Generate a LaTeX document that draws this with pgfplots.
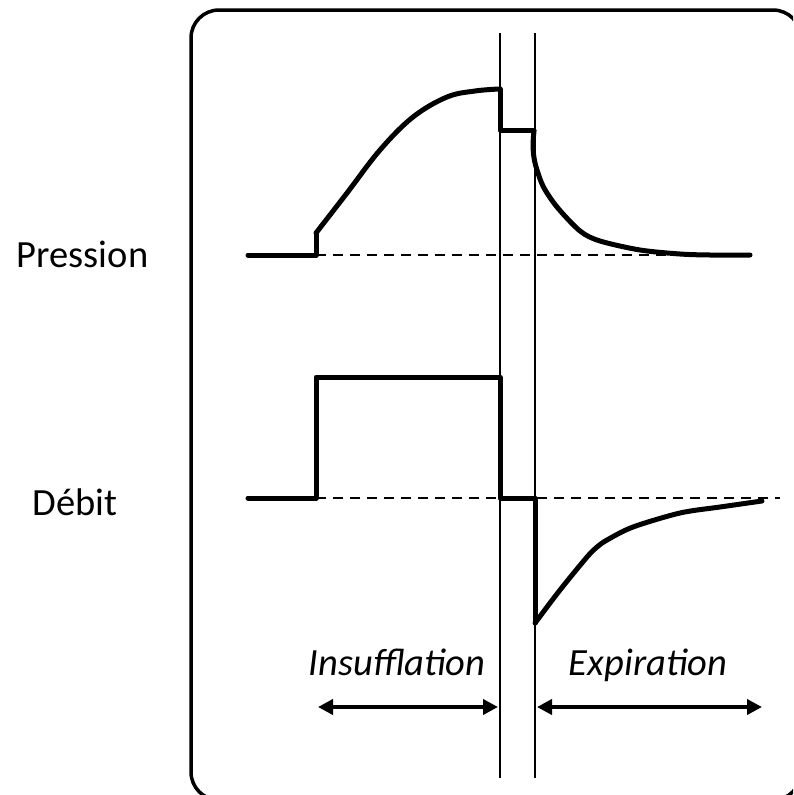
\documentclass[border=0pt]{standalone}
\usepackage{pgfplots}
\pgfplotsset{compat=1.18}
\usepackage{fontspec}
\setmainfont{Carlito}
\usetikzlibrary{arrows.meta}
\begin{document}
\begin{tikzpicture}
\begin{axis}[width=793pt,height=795pt,scale only axis,
  xmin=0,xmax=793,ymin=0,ymax=795,y dir=reverse,
  axis lines=none,ticks=none,clip=true]
% frame
\draw[line width=3.5pt,rounded corners=28pt] (axis cs:191,10) rectangle (axis cs:801,800);
% vertical lines
\addplot[line width=2.2pt] coordinates {(500,33) (500,778)};
\addplot[line width=2.2pt] coordinates {(535,33) (535,778)};
% dashed baselines
\addplot[line width=2.2pt,dash pattern=on 10pt off 7pt] coordinates {(316,255) (750,255)};
\addplot[line width=2.2pt,dash pattern=on 10pt off 7pt] coordinates {(316,498) (780,498)};
% pressure
\addplot[line width=5pt,line join=round,line cap=round] coordinates {(248,255) (316,255) (316,233)};
\addplot[line width=5pt,line cap=round,smooth,tension=0.6] coordinates {(316,233) (347,193) (380,150) (413,117) (447,97) (475,91) (499,89)};
\addplot[line width=5pt,line join=round,line cap=round] coordinates {(500,89) (500,130) (534,130)};
\addplot[line width=5pt,line cap=round,smooth,tension=0.5] coordinates {(534,131) (533,146) (535,163) (543,186) (557,207) (580,231) (600,241) (640,250) (680,254) (710,255) (750,255)};
% flow
\addplot[line width=5pt,line join=round,line cap=round] coordinates {(248,498) (316,498) (316,377) (500,377) (500,498) (535,498) (535,623)};
\addplot[line width=5pt,line cap=round,smooth,tension=0.5] coordinates {(535,623) (560,590) (587,557) (597,547) (607,540) (633,527) (680,513) (720,507) (762,501)};
% arrows
\draw[line width=4.5pt,{Triangle[length=15pt,width=15pt]}-{Triangle[length=15pt,width=15pt]}] (axis cs:318,707) -- (axis cs:498,707);
\draw[line width=4.5pt,{Triangle[length=15pt,width=15pt]}-{Triangle[length=15pt,width=15pt]}] (axis cs:537,707) -- (axis cs:762,707);
% labels
\node[anchor=base,inner sep=0pt,font=\fontsize{38.5}{46}\selectfont] at (axis cs:82.5,267) {Pression};
\node[anchor=base,inner sep=0pt,font=\fontsize{38.5}{46}\selectfont] at (axis cs:75,515) {Débit};
\node[anchor=base,inner sep=0pt,font=\fontsize{38.5}{46}\selectfont\itshape] at (axis cs:397,675) {Insufflation};
\node[anchor=base,inner sep=0pt,font=\fontsize{38.5}{46}\selectfont\itshape] at (axis cs:648,675) {Expiration};
\end{axis}
\pgfresetboundingbox
\path[use as bounding box] (current axis.south west) rectangle (current axis.north east);
\end{tikzpicture}
\end{document}
